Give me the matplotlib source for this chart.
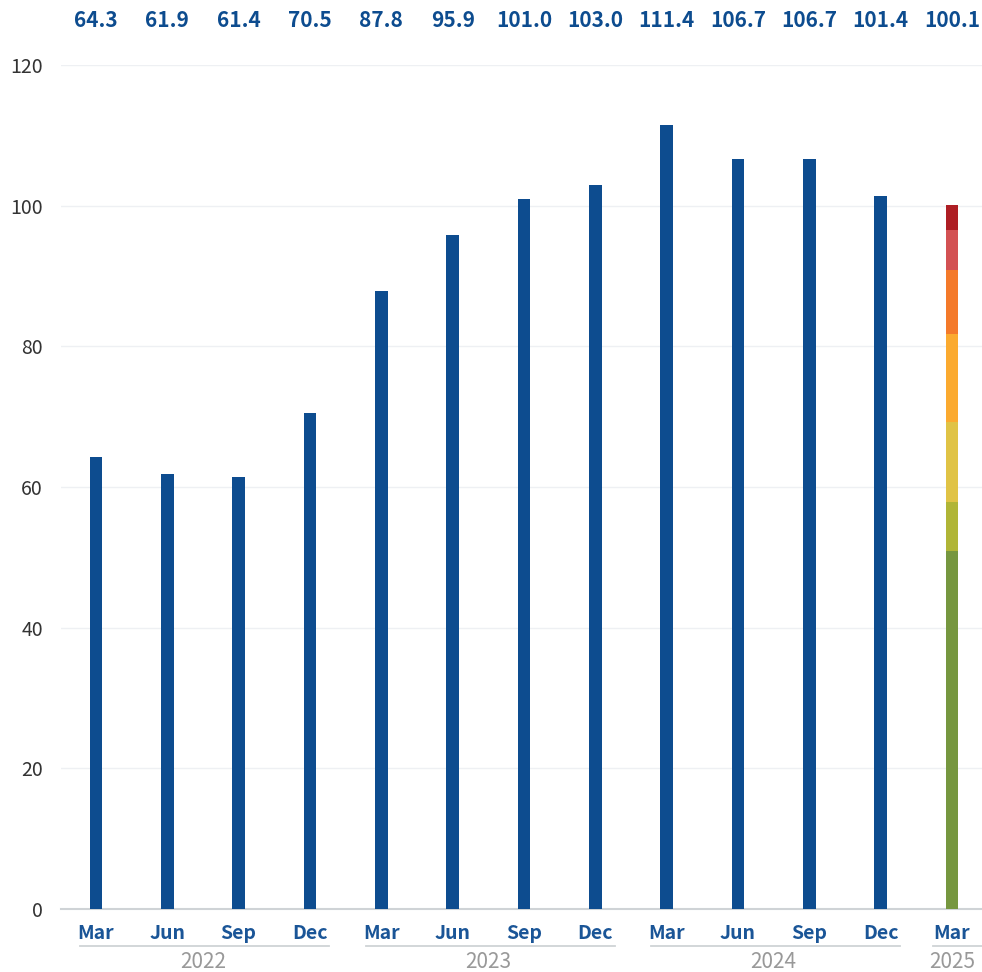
import numpy as np
import matplotlib.pyplot as plt
from matplotlib.transforms import blended_transform_factory

plt.rcParams['font.family'] = ['Noto Sans CJK JP', 'DejaVu Sans']

months = ['Mar', 'Jun', 'Sep', 'Dec', 'Mar', 'Jun', 'Sep', 'Dec',
          'Mar', 'Jun', 'Sep', 'Dec', 'Mar']
years = ['2022', '2023', '2024', '2025']
year_groups = [(0, 3), (4, 7), (8, 11), (12, 12)]
values = [64.3, 61.9, 61.4, 70.5, 87.8, 95.9, 101.0, 103.0,
          111.4, 106.7, 106.7, 101.4, 100.1]

# last quarter is split into coloured parts
last_parts = [50.9, 7.0, 11.4, 12.5, 9.1, 5.6, 3.6]
part_colors = ['#76973f', '#b0b536', '#e0c345', '#fbaa2f',
               '#f47a2a', '#d35153', '#ae1e24']

blue = '#0d4c8f'

fig = plt.figure(figsize=(9.82, 9.72), dpi=100)
ax = fig.add_axes([61 / 982, 1 - 909 / 972, 1 - 61 / 982, (909 - 65) / 972])

x = np.arange(len(values))
w = 0.18
ax.bar(x[:-1], values[:-1], width=w, color=blue, zorder=3)
bottom = 0
for part, col in zip(last_parts, part_colors):
    ax.bar(x[-1], part, width=w, bottom=bottom, color=col, zorder=3)
    bottom += part

ax.set_ylim(0, 120)
ax.set_xlim(-0.49, 12.42)
ax.set_yticks(np.arange(0, 121, 20))
ax.yaxis.grid(True, color='#eef0f3', linewidth=1)
ax.set_axisbelow(True)
for s in ['top', 'right', 'left']:
    ax.spines[s].set_visible(False)
ax.spines['bottom'].set_color('#cfd3d6')
ax.spines['bottom'].set_linewidth(1.5)
ax.tick_params(axis='y', length=0, pad=13, labelsize=14, labelcolor='#333333')
ax.tick_params(axis='x', length=0, pad=11)
ax.set_xticks(x)
ax.set_xticklabels(months, fontsize=14, fontweight='bold', color='#1a5597')

tr = blended_transform_factory(ax.transData, ax.transAxes)
for xi, v in zip(x, values):
    ax.text(xi, 1.053, f'{v:.1f}', transform=tr, ha='center', va='center',
            fontsize=15, fontweight='bold', color='#0d4c8f')

# year groups under the month labels
for yr, (a, b) in zip(years, year_groups):
    x0 = a - 0.22 if a != 12 else a - 0.27
    x1 = b + 0.27 if b != 12 else 12.42
    ax.plot([x0, x1], [-0.044, -0.044], transform=tr, color='#cfd3d6',
            linewidth=1.3, clip_on=False)
    ax.text((a + b) / 2, -0.063, yr, transform=tr, ha='center', va='center',
            fontsize=15, color='#999999')

fig.savefig('out.png', dpi=100)
